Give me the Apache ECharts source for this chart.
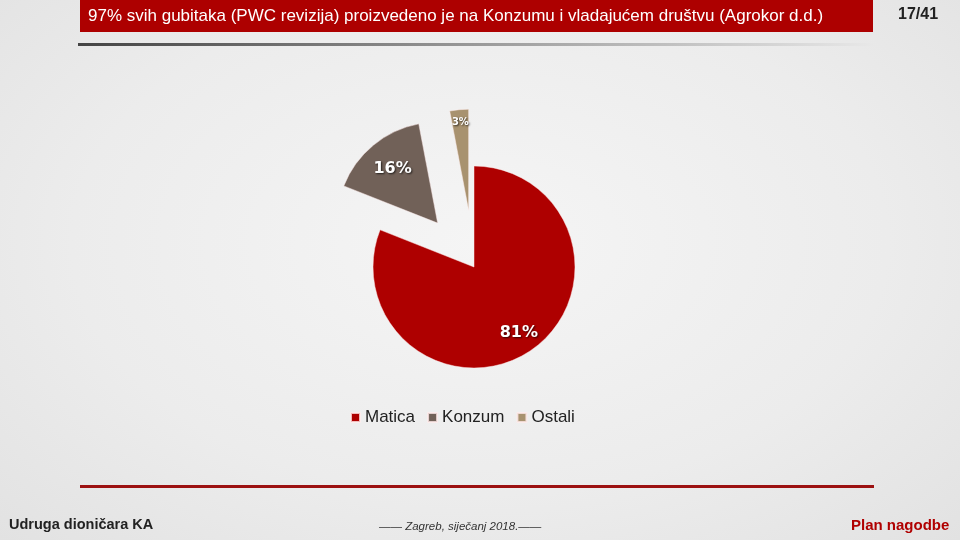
<!DOCTYPE html>
<html>
<head>
<meta charset="utf-8">
<script src="https://cdn.jsdelivr.net/npm/echarts@6/dist/echarts.min.js"></script>
<style>
  html, body { margin: 0; padding: 0; }
  body {
    width: 960px; height: 540px; overflow: hidden;
    background: radial-gradient(ellipse at 50% 45%, #f5f5f5 0%, #ececec 60%, #e2e2e2 100%);
  }
  #chart { width: 960px; height: 540px; }
</style>
</head>
<body>
<div id="chart"></div>
<script>
// udjeli gubitaka
var categories = ["Matica", "Konzum", "Ostali"];
var values = [81, 16, 3];
var exploded = [false, true, true];
var colors = ["#ae0000", "#716158", "#a8926f"];

var titleText = "97% svih gubitaka (PWC revizija) proizvedeno je na Konzumu i vladajućem društvu (Agrokor d.d.)";
var pageText = "17/41";

var radius = 101;
var total = values.reduce(function(a, b) { return a + b; }, 0);

// pomak labela prema vanjskom rubu (pozicija 'inside' je na pola radijusa)
var cum = 0;
var pieData = values.map(function(v, i) {
  var mid = (cum + v / 2) / total * Math.PI * 2;
  cum += v;
  var push = radius * (v < 5 ? 0.34 : (exploded[i] ? 0.17 : 0.26));
  var lbl = {
    offset: [Math.sin(mid) * push, -Math.cos(mid) * push],
    fontSize: v < 5 ? 10 : 16
  };
  return {
    name: categories[i],
    value: v,
    selected: exploded[i],
    label: lbl,
    select: { label: lbl }
  };
});

var chart = echarts.init(document.getElementById("chart"));
var option = {
  animation: false,
  color: colors,
  legend: {
    data: categories,
    top: 404,
    left: 345,
    itemWidth: 9,
    itemHeight: 9,
    itemGap: 12,
    icon: "rect",
    textStyle: {
      color: "#222",
      fontSize: 17,
      fontFamily: "Liberation Sans, Arial"
    },
    selectedMode: false
  },
  series: [
    {
      type: "pie",
      center: [474, 267],
      radius: radius,
      startAngle: 90,
      clockwise: true,
      selectedMode: "multiple",
      selectedOffset: 57,
      avoidLabelOverlap: false,
      data: pieData,
      itemStyle: { borderColor: "rgba(255,235,235,0.8)", borderWidth: 0.6 },
      select: { itemStyle: { borderColor: "rgba(255,235,235,0.8)", borderWidth: 0.6 } },
      emphasis: { disabled: true },
      label: {
        show: true,
        position: "inside",
        formatter: "{c}%",
        color: "#fff",
        fontWeight: "bold",
        fontFamily: "DejaVu Sans, Verdana",
        textShadowColor: "rgba(0,0,0,0.7)",
        textShadowBlur: 2,
        textShadowOffsetX: 1,
        textShadowOffsetY: 1
      },
      labelLine: { show: false }
    }
  ],
  graphic: [
    // crvena traka naslova
    { type: "rect", shape: { x: 80, y: 0, width: 793, height: 32 }, style: { fill: "#ad0000" } },
    {
      type: "text", left: 88, top: 8,
      style: { text: titleText, fill: "#fff", fontSize: 17, fontFamily: "Liberation Sans, Arial" }
    },
    {
      type: "text", left: 898, top: 7,
      style: { text: pageText, fill: "#222", fontSize: 16, fontWeight: "bold", fontFamily: "Liberation Sans, Arial" }
    },
    {
      type: "rect", shape: { x: 78, y: 43, width: 795, height: 3 },
      style: {
        fill: new echarts.graphic.LinearGradient(0, 0, 1, 0, [
          { offset: 0, color: "#444" },
          { offset: 0.6, color: "#aaa" },
          { offset: 1, color: "#e8e8e8" }
        ])
      }
    },
    // donja crta i podnožje
    { type: "rect", shape: { x: 80, y: 485, width: 794, height: 3 }, style: { fill: "#9c1111" } },
    {
      type: "text", left: 9, top: 517,
      style: { text: "Udruga dioničara KA", fill: "#222", fontSize: 14.5, fontWeight: "bold",
        fontFamily: "Liberation Sans, Arial" }
    },
    {
      type: "text", left: 379, top: 521,
      style: { text: "—— Zagreb, siječanj 2018.——", fill: "#333", fontSize: 11.5, fontStyle: "italic",
        fontFamily: "Liberation Sans, Arial" }
    },
    {
      type: "text", left: 851, top: 518,
      style: { text: "Plan nagodbe", fill: "#b00000", fontSize: 15, fontWeight: "bold",
        fontFamily: "Liberation Sans, Arial" }
    }
  ]
};
chart.setOption(option);
</script>
</body>
</html>
